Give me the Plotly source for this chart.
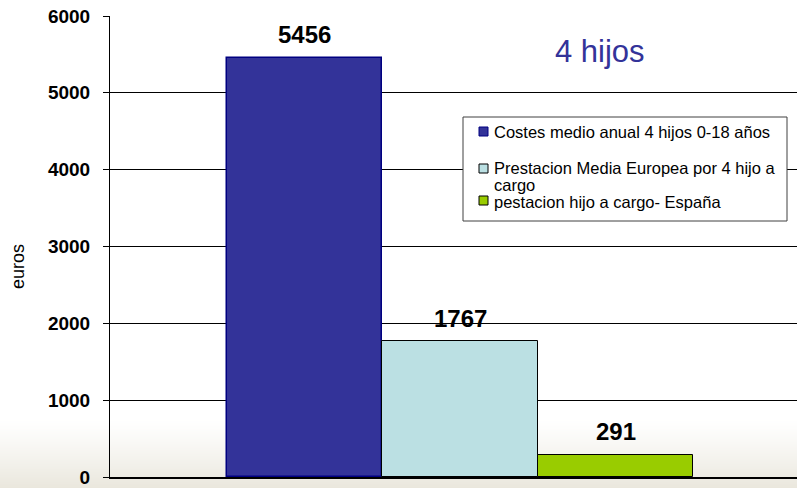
import plotly.graph_objects as go

# ---- data ----
series_names = [
    "Costes medio anual 4 hijos 0-18 años",
    "Prestacion Media Europea por 4 hijo a cargo",
    "pestacion hijo a cargo- España",
]
legend_lines = [
    ["Costes medio anual 4 hijos 0-18 años"],
    ["Prestacion Media Europea por 4 hijo a", "cargo"],
    ["pestacion hijo a cargo- España"],
]
values = [5456, 1767, 291]
positions = [0, 1, 2]
y_ticks = [0, 1000, 2000, 3000, 4000, 5000, 6000]
title_text = "4 hijos"
y_title = "euros"

fills = ["#333399", "#BBE0E3", "#99CC00"]
borders = ["#000080", "#000000", "#000000"]

W, H = 797, 488
L, T, B, R = 110, 16, 11, 0
PW, PH = W - L - R, H - T - B
FONT = "Arial, Liberation Sans, sans-serif"


def px(x):
    return (x - L) / PW


def py(y):
    return (H - B - y) / PH


fig = go.Figure()
for i in range(3):
    fig.add_trace(go.Bar(
        x=[positions[i]], y=[values[i]], width=1.0, name=series_names[i],
        marker=dict(color=fills[i], line=dict(color=borders[i], width=1.5 if i == 0 else 1)),
        showlegend=False, hoverinfo="name+y",
    ))

shapes = []
# background gradient (slide background)
g0, g1 = 418, H
steps = 70
for k in range(steps):
    y0 = g0 + (g1 - g0) * k / steps
    y1 = g0 + (g1 - g0) * (k + 1) / steps
    t = ((k + 0.5) / steps) ** 1.2
    r = round(255 + (234 - 255) * t)
    g = round(255 + (231 - 255) * t)
    b = round(255 + (221 - 255) * t)
    shapes.append(dict(type="rect", xref="paper", yref="paper",
                       x0=px(0), x1=px(W), y0=py(y1), y1=py(y0),
                       fillcolor=f"rgb({r},{g},{b})", line=dict(width=0), layer="below"))

# manual legend
shapes.append(dict(type="rect", xref="paper", yref="paper",
                   x0=px(463), x1=px(787), y0=py(221), y1=py(117),
                   fillcolor="white", line=dict(color="#404040", width=1), layer="above"))
sym_y = [(127, 136), (164, 173), (196, 205)]
txt_y = [[131.5], [168, 185], [202]]
annotations = []
for i in range(3):
    shapes.append(dict(type="rect", xref="paper", yref="paper",
                       x0=px(479), x1=px(488), y0=py(sym_y[i][1]), y1=py(sym_y[i][0]),
                       fillcolor=fills[i], line=dict(color="#000000" if i else "#000080", width=1),
                       layer="above"))
    for line, yy in zip(legend_lines[i], txt_y[i]):
        annotations.append(dict(
            xref="paper", yref="paper", x=px(492), y=py(yy),
            xanchor="left", yanchor="middle", align="left", showarrow=False,
            text=line, font=dict(family=FONT, size=16.5, color="#000000"),
        ))

# value labels
for i in range(3):
    annotations.append(dict(
        x=positions[i], y=values[i], xref="x", yref="y", text=f"<b>{values[i]}</b>",
        showarrow=False, yanchor="middle", yshift=23,
        font=dict(family=FONT, size=24, color="#000000"),
    ))

# title
annotations.append(dict(
    xref="paper", yref="paper", x=px(600), y=py(52), text=title_text, showarrow=False,
    xanchor="center", yanchor="middle", font=dict(family=FONT, size=31, color="#333399"),
))
# y title
annotations.append(dict(
    xref="paper", yref="paper", x=px(18), y=py(267), text=y_title, showarrow=False,
    textangle=-90, xanchor="center", yanchor="middle",
    font=dict(family=FONT, size=18, color="#000000"),
))

unit = 155.5
c0 = 304.5
fig.update_layout(
    width=W, height=H,
    margin=dict(l=L, r=R, t=T, b=B, autoexpand=False),
    paper_bgcolor="white", plot_bgcolor="rgba(0,0,0,0)",
    barmode="overlay", bargap=0,
    shapes=shapes, annotations=annotations,
    font=dict(family=FONT, color="#000000"),
    xaxis=dict(range=[-(c0 - L) / unit, (W - R - c0) / unit], showticklabels=False,
               showgrid=False, zeroline=False, showline=True, linecolor="#000000",
               linewidth=1.5, ticks="", fixedrange=True),
    yaxis=dict(range=[0, 6000], tickvals=y_ticks, ticktext=[f"<b>{v}</b>" for v in y_ticks],
               tickfont=dict(family=FONT, size=19, color="#000000"),
               showgrid=True, gridcolor="#000000", gridwidth=1, zeroline=False,
               showline=True, linecolor="#000000", linewidth=1,
               ticks="outside", ticklen=6, tickcolor="#000000", ticklabelstandoff=9,
               fixedrange=True),
)

fig.write_html("out.html", config={"displayModeBar": False},
               post_script="document.body.style.margin='0';document.body.style.overflow='hidden';")
